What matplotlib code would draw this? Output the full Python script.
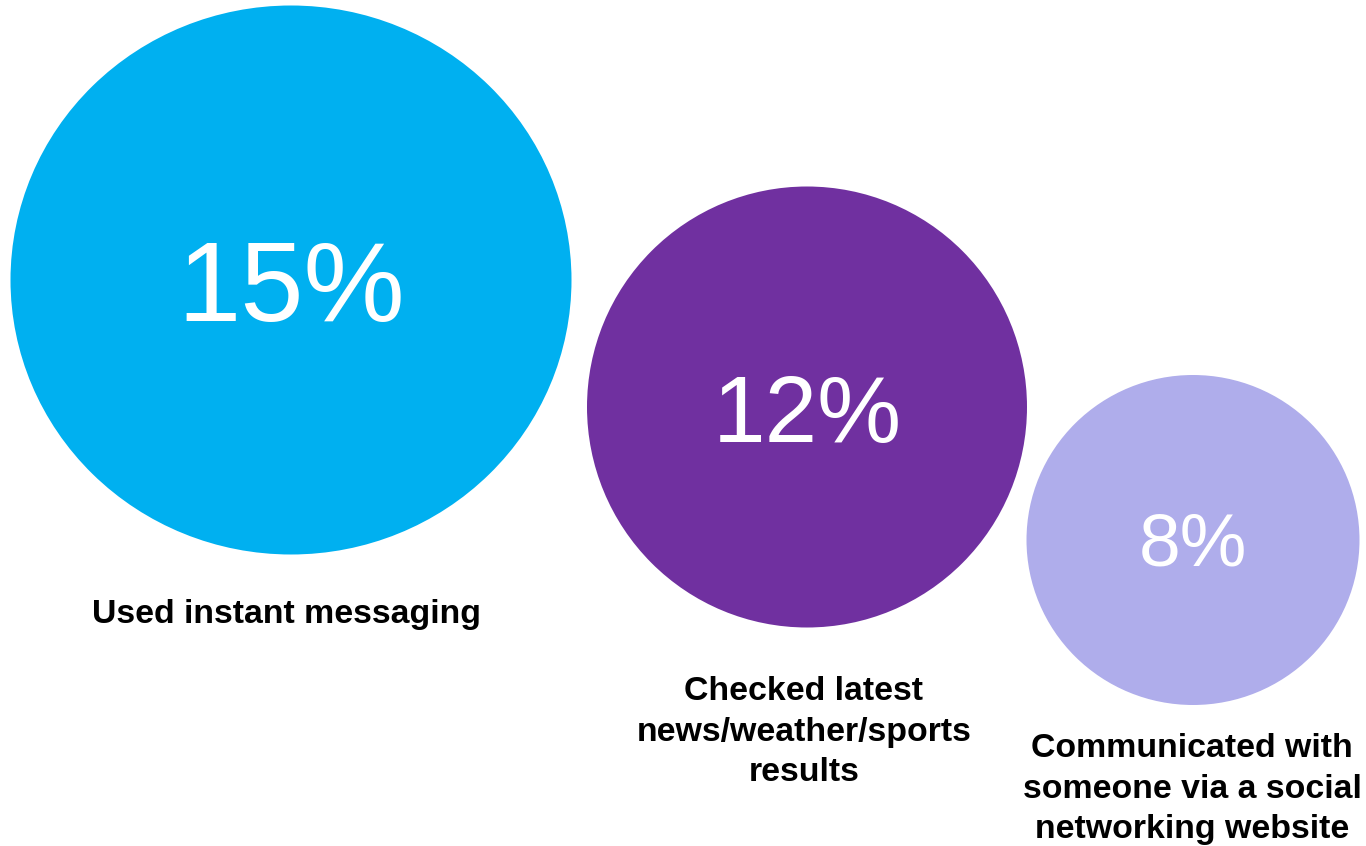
import matplotlib.pyplot as plt
from matplotlib.patches import Ellipse

# share of respondents doing each activity
categories = ['Used instant messaging',
              'Checked latest\nnews/weather/sports\nresults',
              'Communicated with\nsomeone via a social\nnetworking website']
values = [15, 12, 8]
colors = ['#00B0F0', '#7030A0', '#AFADEB']

# layout in pixel units (figure is 1366x846)
centers = [(291, 280), (807, 407), (1193, 540)]
sizes = [(561, 549), (440, 441), (333, 330)]
pct_fontsize = [82, 68, 54]
pct_baseline = [321, 442, 566]
label_pos = [(287, 614), (804, 732), (1192, 789)]

plt.rcParams['font.family'] = ['Liberation Sans', 'DejaVu Sans']

fig = plt.figure(figsize=(13.66, 8.46), dpi=100)
ax = fig.add_axes([0, 0, 1, 1])
ax.set_xlim(0, 1366)
ax.set_ylim(846, 0)
ax.axis('off')

for i in range(len(values)):
    (cx, cy), (w, h) = centers[i], sizes[i]
    ax.add_patch(Ellipse((cx, cy), w, h, facecolor=colors[i], edgecolor='none'))
    ax.text(cx, pct_baseline[i], f'{values[i]}%', color='white',
            fontsize=pct_fontsize[i], ha='center', va='baseline')
    lx, ly = label_pos[i]
    ax.text(lx, ly, categories[i], fontsize=24.4, fontweight='bold', color='black',
            ha='center', va='center', linespacing=1.39)

fig.savefig('out.png', dpi=100)
